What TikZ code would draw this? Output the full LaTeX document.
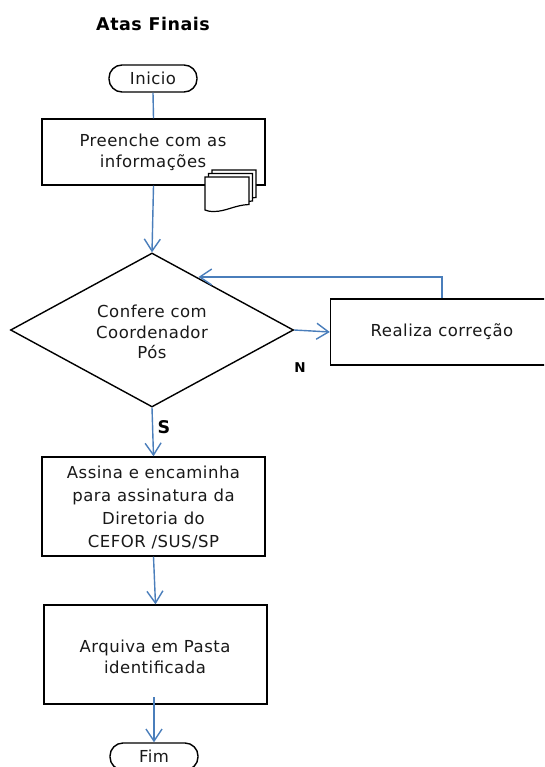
\documentclass[tikz,border=0pt]{standalone}
\usepackage{fontspec}
\setmainfont[LetterSpace=3]{DejaVu Sans}
\usetikzlibrary{arrows.meta,shapes.geometric}
\definecolor{linkblue}{RGB}{74,126,187}
\tikzset{
  x=1pt,y=-1pt,
  txt/.style={font=\fontsize{16.5}{21}\selectfont,text=black!90,align=center},
  procbox/.style={draw=black,line width=1.4pt,fill=white,inner sep=0pt},
  terminal/.style={draw=black,line width=1.4pt,fill=white,rounded corners=13pt,inner sep=0pt},
  link/.style={draw=linkblue,line width=1.4pt,-{Straight Barb[length=12pt,width=16pt,line width=1.4pt]}},
  plainlink/.style={draw=linkblue,line width=1.4pt},
  sheet/.style={draw=black,line width=1.2pt,fill=white},
  tag/.style={font=\bfseries\fontsize{17.5}{20}\selectfont,text=black}
}
\begin{document}
\begin{tikzpicture}
\useasboundingbox (0,0) rectangle (544,767);
\clip (0,0) rectangle (544,767);
\fill[white] (0,0) rectangle (544,767);
\node[tag] (title) at (153,24) {Atas Finais};
\node[terminal,txt,minimum width=88pt,minimum height=27pt] (inicio) at (153,78.5) {Inicio};
\node[procbox,minimum width=223pt,minimum height=66pt] (prep) at (153.5,152) {};
\node[txt] (preptext) at (153,152) {Preenche com as\\informações};
\node[draw=black,line width=1.4pt,fill=white,shape=diamond,shape aspect=1.83,inner sep=0pt,minimum width=283pt,minimum height=154pt] (conf) at (152,330) {};
\node[txt,font=\fontsize{16.5}{20.5}\selectfont] (conftext) at (152,332) {Confere com\\Coordenador\\Pós};
\node[procbox,txt,minimum width=223pt,minimum height=66pt] (corr) at (442,332) {Realiza correção};
\node[procbox,minimum width=223pt,minimum height=99pt] (sign) at (153.5,506.5) {};
\node[txt,font=\fontsize{16.5}{22.7}\selectfont] (signtext) at (153.5,507.5) {Assina e encaminha\\para assinatura da\\Diretoria  do\\CEFOR /SUS/SP};
\node[procbox,minimum width=223pt,minimum height=99pt] (arch) at (155.5,654.5) {};
\node[txt] (archtext) at (155,656.5) {Arquiva em Pasta\\identificada};
\node[terminal,txt,minimum width=88pt,minimum height=27pt] (fim) at (154,756.5) {Fim};
\node[tag] (s) at (164,427) {S};
\node[font=\bfseries\fontsize{13.5}{15}\selectfont] (n) at (300,368) {N};
\draw[plainlink] (inicio.south) -- (prep.north);
\draw[link] (prep.south) -- (conf.north);
\draw[link] (conf.east) -- (corr.west);
\coordinate (backentry) at (198.5,277);
\draw[link] (corr.north) -- (corr.north |- backentry) -- (backentry);
\draw[link] (conf.south) -- (sign.north);
\draw[link] (sign.south) -- (arch.north);
\coordinate (archout) at (154,697);
\draw[link] (archout) -- (fim.north);
\foreach \d/\y in {7/-7,3.5/-3.5,0/0}{
  \draw[sheet,shift={(\d,\y)}] (205,177) -- (249,177) -- (249,204.5)
    .. controls (235,205) and (226,211.5) .. (214,211.5)
    .. controls (210,211.5) and (207,211) .. (205,210) -- cycle;
}
\end{tikzpicture}
\end{document}
